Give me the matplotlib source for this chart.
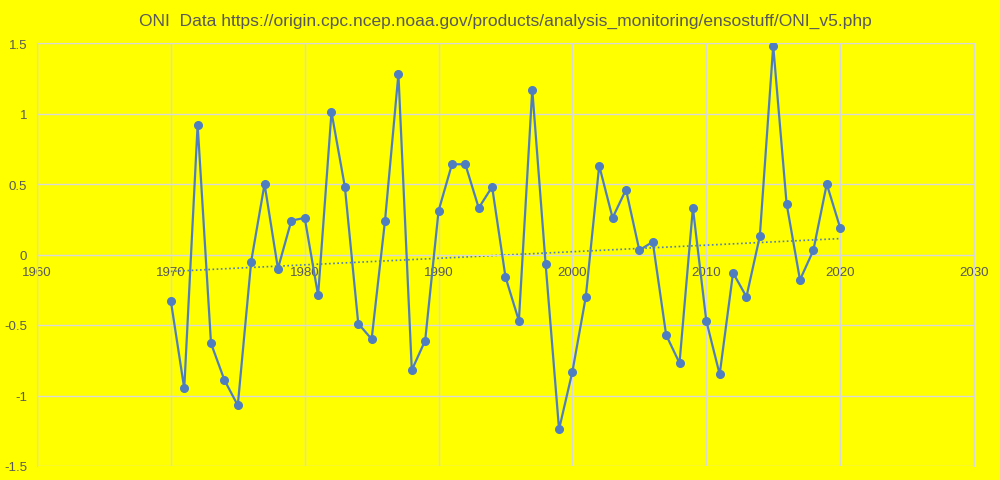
import numpy as np
import matplotlib
matplotlib.use("Agg")
from matplotlib import pyplot as plt

# ONI yearly values
years = np.arange(1970, 2021)
oni = [-0.33, -0.95, 0.92, -0.63, -0.89, -1.07, -0.05, 0.50, -0.10, 0.24,
       0.26, -0.29, 1.01, 0.48, -0.49, -0.60, 0.24, 1.28, -0.82, -0.61,
       0.31, 0.64, 0.64, 0.33, 0.48, -0.16, -0.47, 1.17, -0.07, -1.24,
       -0.83, -0.30, 0.63, 0.26, 0.46, 0.03, 0.09, -0.57, -0.77, 0.33,
       -0.47, -0.85, -0.13, -0.30, 0.13, 1.48, 0.36, -0.18, 0.03, 0.50,
       0.19]
xticks = [1960, 1970, 1980, 1990, 2000, 2010, 2020, 2030]
yticks = [-1.5, -1, -0.5, 0, 0.5, 1, 1.5]
ylabels = ["-1.5", "-1", "-0.5", "0", "0.5", "1", "1.5"]

title = "ONI  Data https://origin.cpc.ncep.noaa.gov/products/analysis_monitoring/ensostuff/ONI_v5.php"

plt.rcParams['font.family'] = ['Liberation Sans', 'DejaVu Sans']
bg = '#FFFF00'
grid = '#D9D9D9'
txt = '#595959'
blue = '#4F7EC0'

fig = plt.figure(figsize=(10, 4.81), dpi=100, facecolor=bg)
ax = fig.add_axes([0.037, 1 - 467/481, 0.937, (467 - 44)/481])
ax.set_facecolor(bg)

ax.plot(years, oni, color=blue, lw=1.6, marker='o', ms=5.5, zorder=3)

# linear trendline
k, b = np.polyfit(years, oni, 1)
ax.plot(years, k*years + b, color=blue, lw=1.2, ls=(0, (1, 1.5)), zorder=2)

ax.set_xlim(1960, 2030)
ax.set_ylim(-1.5, 1.5)
ax.set_xticks(xticks)
ax.set_yticks(yticks)
ax.set_yticklabels(ylabels)
ax.grid(True, color=grid, lw=1, zorder=0)
ax.set_axisbelow(True)

for s in ['left', 'right', 'top']:
    ax.spines[s].set_color(grid)
ax.spines['bottom'].set_position(('data', 0))
ax.spines['bottom'].set_color(grid)
ax.tick_params(axis='both', length=0, colors=txt, labelsize=9.5)
ax.tick_params(axis='x', pad=8)
ax.tick_params(axis='y', pad=7)

ax.set_title(title, color=txt, fontsize=12.5, pad=13)

fig.savefig('out.png', dpi=100, facecolor=bg)
